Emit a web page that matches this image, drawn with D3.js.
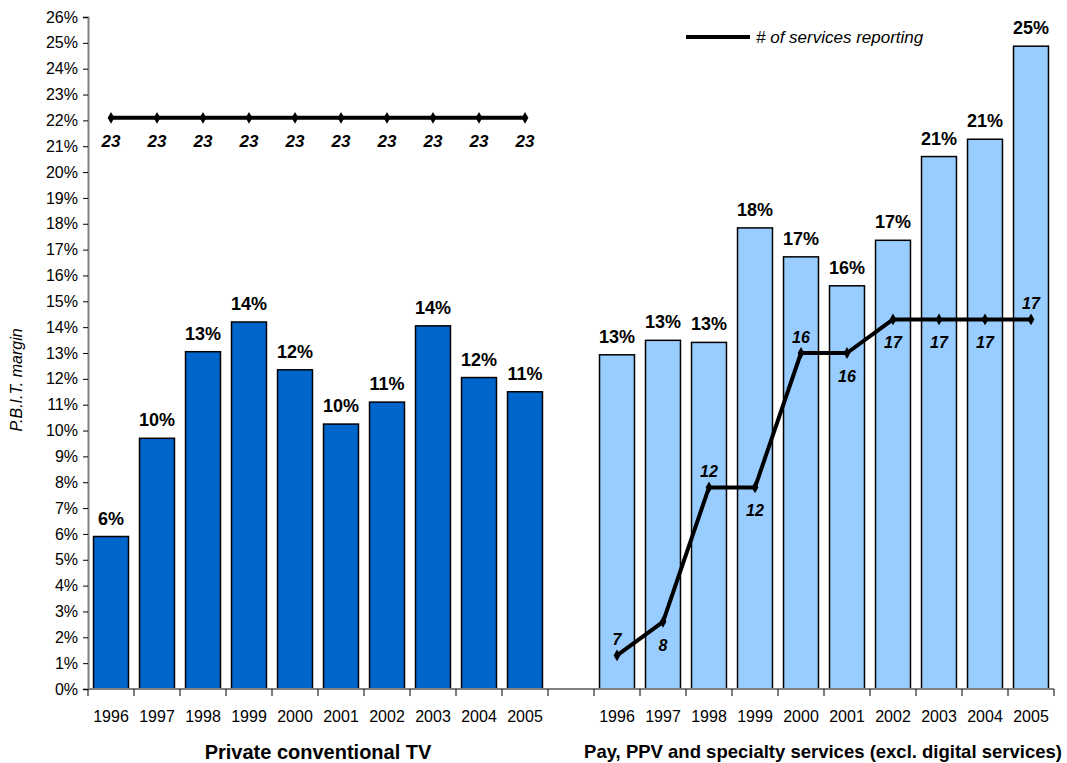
<!DOCTYPE html>
<html>
<head>
<meta charset="utf-8">
<script src="https://cdn.jsdelivr.net/npm/d3@7"></script>
<style>
  body { margin: 0; background: #fff; }
  text { font-family: "Liberation Sans", Arial, sans-serif; }
</style>
</head>
<body>
<svg width="1067" height="763"></svg>
<script>
// data
var years = ["1996","1997","1998","1999","2000","2001","2002","2003","2004","2005"];
var privateMargin = [5.9, 9.7, 13.05, 14.2, 12.35, 10.25, 11.1, 14.05, 12.05, 11.5];
var privateLabels = ["6%","10%","13%","14%","12%","10%","11%","14%","12%","11%"];
var payMargin = [12.93, 13.49, 13.41, 17.84, 16.72, 15.6, 17.36, 20.6, 21.27, 24.87];
var payLabels = ["13%","13%","13%","18%","17%","16%","17%","21%","21%","25%"];
var privateCount = [23, 23, 23, 23, 23, 23, 23, 23, 23, 23];
var payCount = [7, 8, 12, 12, 16, 16, 17, 17, 17, 17];
var groupTitles = ["Private conventional TV", "Pay, PPV and specialty services (excl. digital services)"];
var yTicks = d3.range(0, 27);

var svg = d3.select("svg");

//21 slots: ten years, one empty gap, ten years
var slots = years.map(function(y) { return "L" + y; })
  .concat(["gap"])
  .concat(years.map(function(y) { return "R" + y; }));

var x = d3.scaleBand().domain(slots).range([88, 1054]).padding(0);
var y = d3.scaleLinear().domain([0, 26]).range([689, 17]);
//hidden secondary axis for the count line
var y2 = d3.scaleLinear().domain([6, 26]).range([689, 17]);
var bw = x.bandwidth();

//y axis
var yAxis = svg.append("g")
    .attr("transform", "translate(88,0)")
    .call(d3.axisLeft(y).tickValues(yTicks).tickSize(5).tickPadding(5)
      .tickFormat(function(d) { return d + "%"; }));
yAxis.select(".domain").attr("stroke", "#808080").attr("stroke-width", 2);
yAxis.selectAll(".tick line").attr("stroke", "#000");
yAxis.selectAll("text").attr("font-size", 16).attr("fill", "#000")
    .style("font-family", "'Liberation Sans', Arial, sans-serif");

svg.append("text")
    .attr("transform", "translate(22,380) rotate(-90)")
    .attr("text-anchor", "middle")
    .attr("font-size", 16)
    .attr("font-style", "italic")
    .text("P.B.I.T. margin");

//bars
function drawBars(prefix, values, labels, fill) {
  var g = svg.append("g");
  g.selectAll("rect")
    .data(values)
    .enter().append("rect")
      .attr("x", function(d, i) { return x(prefix + years[i]) + bw * 0.12; })
      .attr("y", function(d) { return y(d); })
      .attr("width", bw * 0.76)
      .attr("height", function(d) { return y(0) - y(d); })
      .attr("fill", fill)
      .attr("stroke", "#000")
      .attr("stroke-width", 1.5);
  g.selectAll("text")
    .data(values)
    .enter().append("text")
      .attr("x", function(d, i) { return x(prefix + years[i]) + bw / 2; })
      .attr("y", function(d) { return y(d) - 12; })
      .attr("text-anchor", "middle")
      .attr("font-size", 18)
      .attr("font-weight", "bold")
      .text(function(d, i) { return labels[i]; });
}
drawBars("L", privateMargin, privateLabels, "#0066CC");
drawBars("R", payMargin, payLabels, "#99CCFF");

//x axis line and ticks at band edges
svg.append("line")
    .attr("x1", 88).attr("x2", 1054)
    .attr("y1", y(0)).attr("y2", y(0))
    .attr("stroke", "#808080").attr("stroke-width", 2);
var edges = slots.map(function(s) { return x(s); }).concat([x.range()[1]]);
svg.append("g").selectAll("line")
    .data(edges)
    .enter().append("line")
      .attr("x1", function(d) { return d; })
      .attr("x2", function(d) { return d; })
      .attr("y1", y(0)).attr("y2", y(0) + 7)
      .attr("stroke", "#000");
svg.append("g").selectAll("text")
    .data(slots.filter(function(s) { return s != "gap"; }))
    .enter().append("text")
      .attr("x", function(d) { return x(d) + bw / 2; })
      .attr("y", 722)
      .attr("text-anchor", "middle")
      .attr("font-size", 16)
      .text(function(d) { return d.slice(1); });

//group titles
svg.append("text")
    .attr("x", (x("L1996") + x("L2005") + bw) / 2)
    .attr("y", 759)
    .attr("text-anchor", "middle")
    .attr("font-size", 20)
    .attr("font-weight", "bold")
    .text(groupTitles[0]);
svg.append("text")
    .attr("x", 823)
    .attr("y", 758)
    .attr("text-anchor", "middle")
    .attr("font-size", 18.5)
    .attr("font-weight", "bold")
    .text(groupTitles[1]);

//count lines, labels above (-1) or below (1) the point
var privatePlace = [1, 1, 1, 1, 1, 1, 1, 1, 1, 1];
var payPlace = [-1, 1, -1, 1, -1, 1, 1, 1, 1, -1];

var line = d3.line()
    .x(function(d) { return d.x; })
    .y(function(d) { return y2(d.v); });

function drawCount(prefix, values, place, size) {
  var pts = values.map(function(v, i) {
    return { x: x(prefix + years[i]) + bw / 2, v: v, p: place[i] };
  });
  var g = svg.append("g");
  g.append("path")
    .datum(pts)
    .attr("d", line)
    .attr("fill", "none")
    .attr("stroke", "#000")
    .attr("stroke-width", 4)
    .attr("stroke-linejoin", "round");
  g.selectAll("path.m")
    .data(pts)
    .enter().append("path")
      .attr("class", "m")
      .attr("d", d3.symbol().type(d3.symbolDiamond).size(40))
      .attr("transform", function(d) { return "translate(" + d.x + "," + y2(d.v) + ")"; })
      .attr("fill", "#000");
  g.selectAll("text")
    .data(pts)
    .enter().append("text")
      .attr("x", function(d) { return d.x; })
      .attr("y", function(d) { return y2(d.v) + (d.p > 0 ? 29 : -10); })
      .attr("text-anchor", "middle")
      .attr("font-size", size)
      .attr("font-weight", "bold")
      .attr("font-style", "italic")
      .text(function(d) { return d.v; });
}
drawCount("L", privateCount, privatePlace, 17);
drawCount("R", payCount, payPlace, 16);

//legend
svg.append("line")
    .attr("x1", 686).attr("x2", 750)
    .attr("y1", 37).attr("y2", 37)
    .attr("stroke", "#000").attr("stroke-width", 4);
svg.append("text")
    .attr("x", 756).attr("y", 43)
    .attr("font-size", 17)
    .attr("font-style", "italic")
    .text("# of services reporting");
</script>
</body>
</html>
